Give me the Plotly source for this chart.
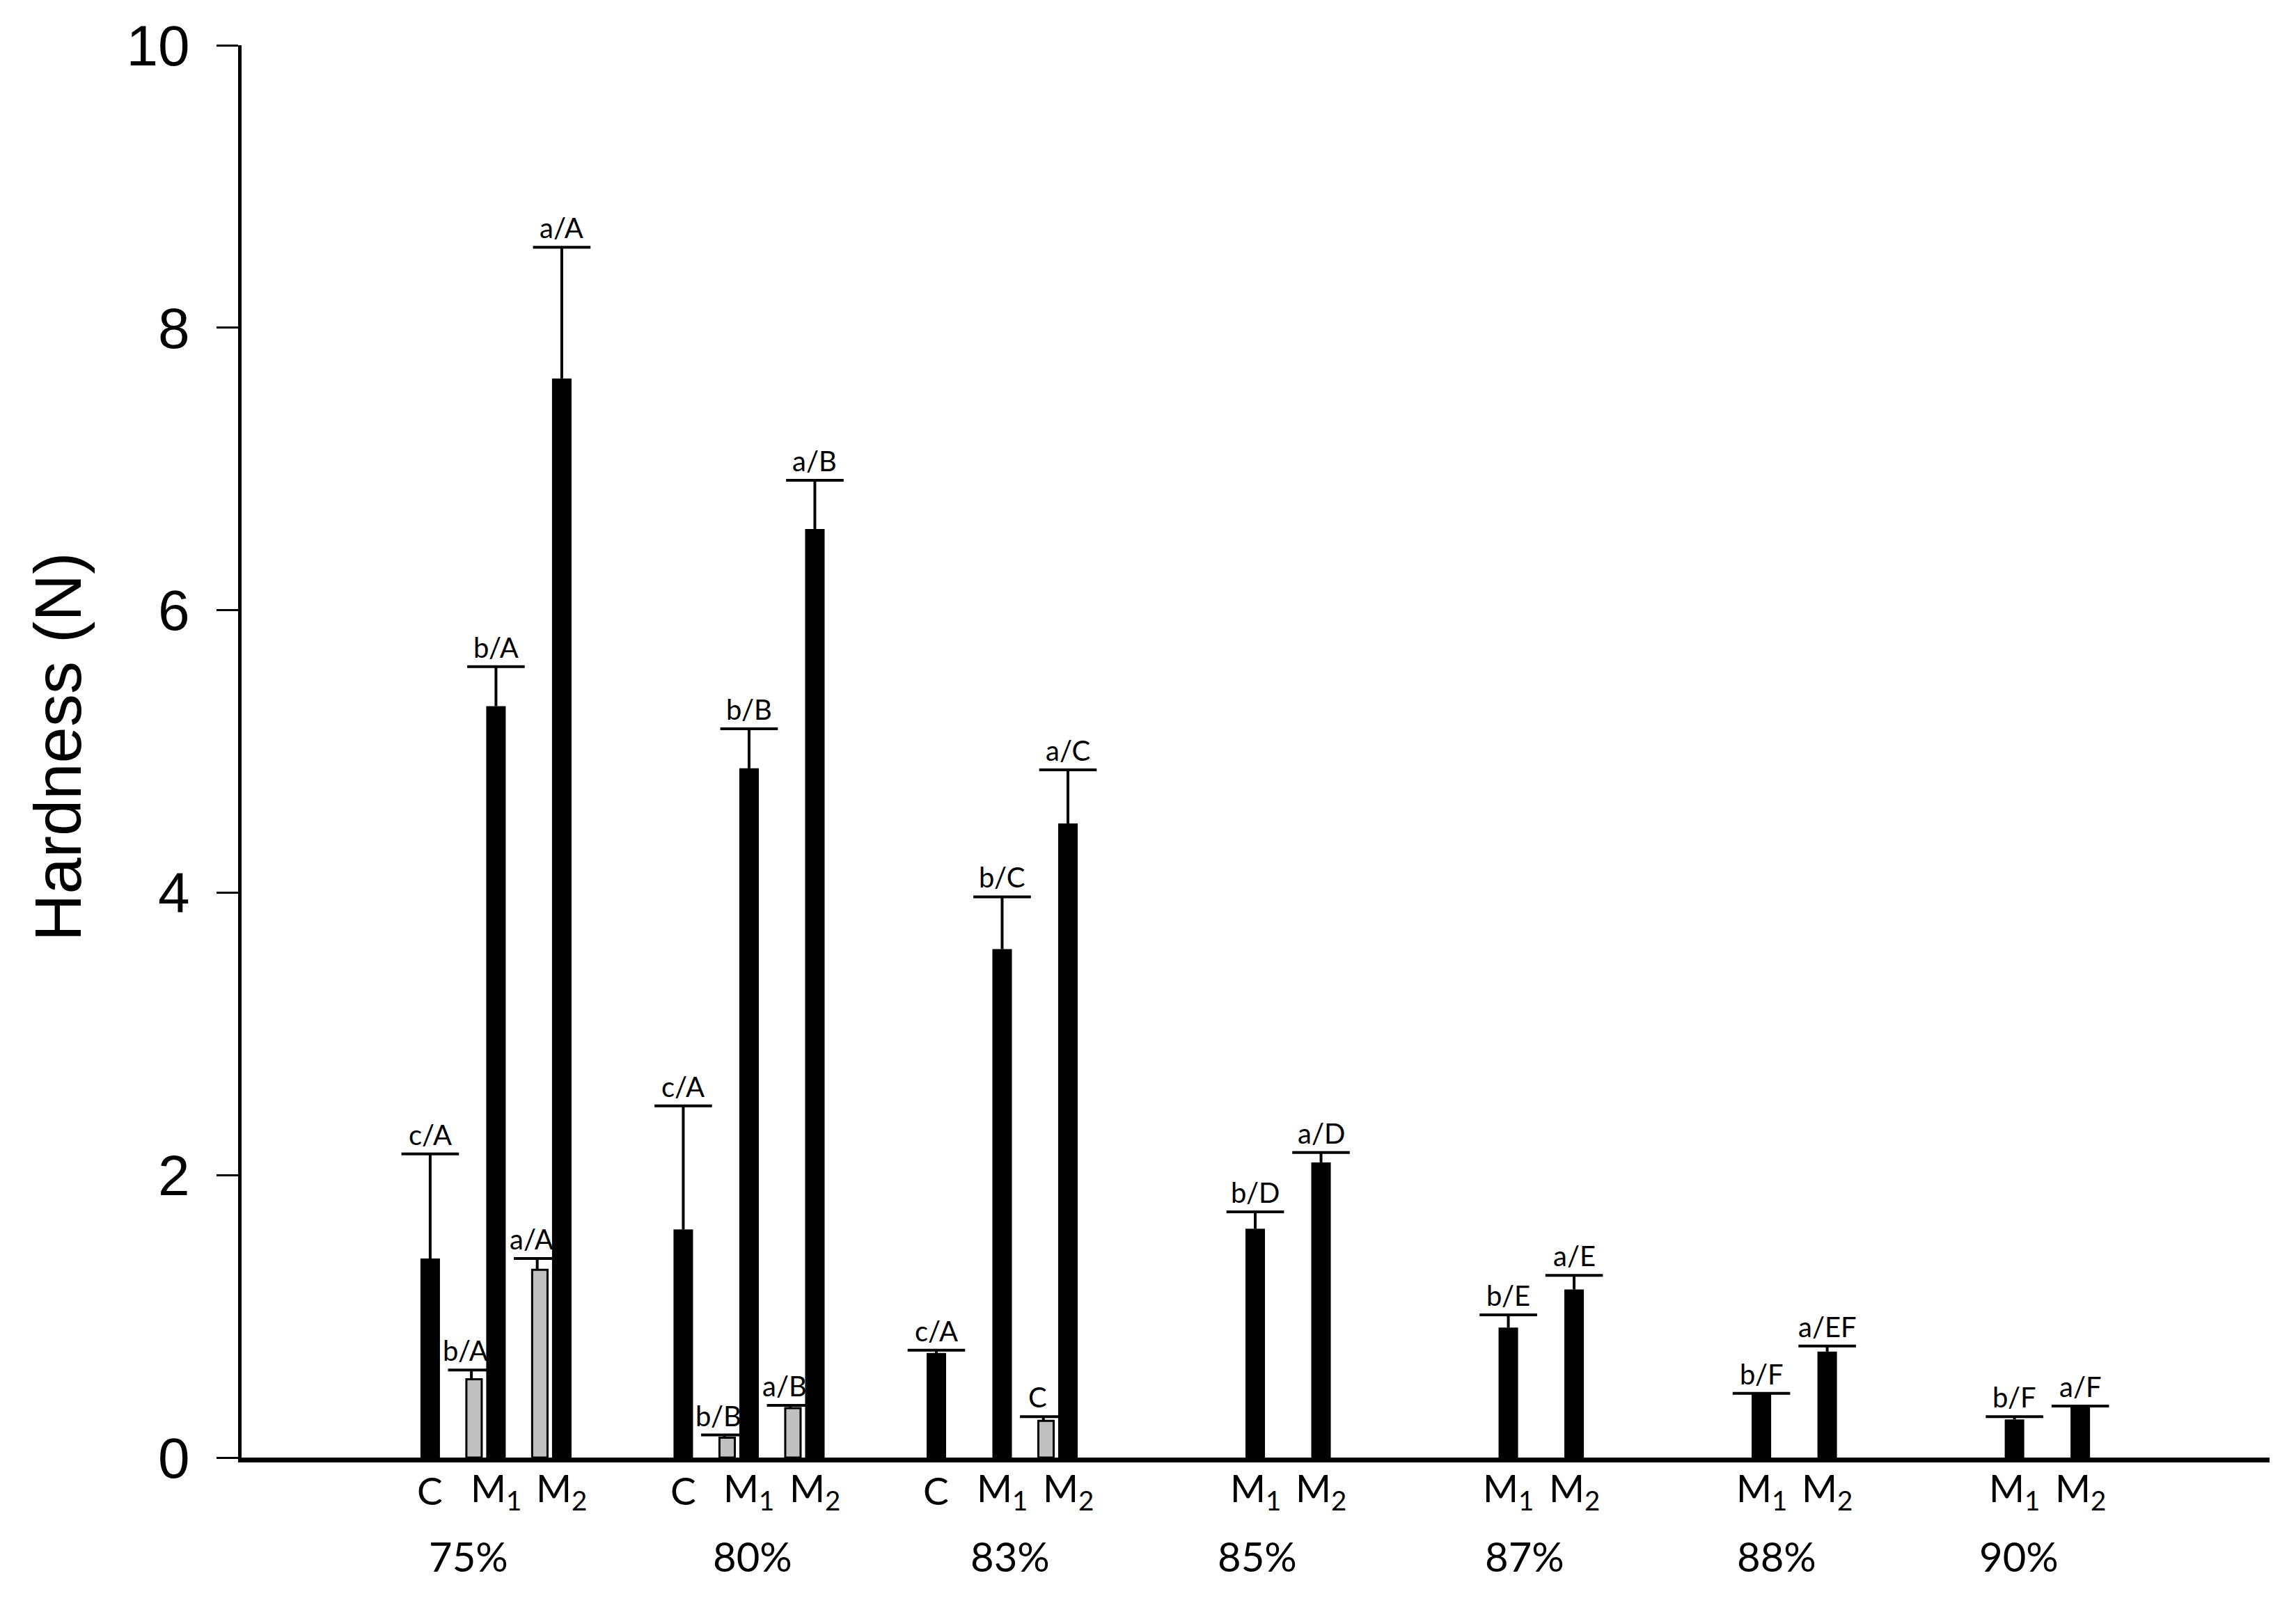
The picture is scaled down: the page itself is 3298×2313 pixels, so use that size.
import plotly.graph_objects as go

# ---------------- data ----------------
groups = ["75%", "80%", "83%", "85%", "87%", "88%", "90%"]

# black bars (means and upward SD)
c_mean = [1.41, 1.615, 0.74, None, None, None, None]
c_sd = [0.74, 0.875, 0.02, None, None, None, None]
c_lab = ["c/A", "c/A", "c/A", None, None, None, None]

m1_mean = [5.32, 4.88, 3.60, 1.62, 0.92, 0.45, 0.27]
m1_sd = [0.28, 0.28, 0.37, 0.12, 0.09, 0.005, 0.02]
m1_lab = ["b/A", "b/B", "b/C", "b/D", "b/E", "b/F", "b/F"]

m2_mean = [7.64, 6.575, 4.49, 2.09, 1.19, 0.75, 0.36]
m2_sd = [0.93, 0.345, 0.38, 0.07, 0.10, 0.04, 0.005]
m2_lab = ["a/A", "a/B", "a/C", "a/D", "a/E", "a/EF", "a/F"]

# grey bars
m1g_mean = [0.555, 0.14, None, None, None, None, None]
m1g_sd = [0.065, 0.02, None, None, None, None, None]
m1g_lab = ["b/A", "b/B", None, None, None, None, None]

m2g_mean = [1.33, 0.35, 0.26, None, None, None, None]
m2g_sd = [0.08, 0.02, 0.03, None, None, None, None]
m2g_lab = ["a/A", "a/B", "C", None, None, None, None]

treat_c = "C"
treat_m1 = "M<sub>1</sub>"
treat_m2 = "M<sub>2</sub>"
y_title = "Hardness (N)"
y_ticks = [0, 2, 4, 6, 8, 10]

# ---------------- layout constants ----------------
GROUP_STEP = 11.54
OFF = {"C": 0.0, "M1": 3.0, "M2": 6.0, "M1g": 2.0, "M2g": 5.0}
PCT_SHIFT = [1.75, 3.16, 3.37, 3.1, 3.75, 3.7, 3.2]  # label offsets within group (slot units)

BLACK_W = 0.89
GREY_W = 0.70
LABEL_FONT = dict(family="Lato, Carlito, sans-serif", size=40, color="black")
XLAB_FONT = dict(family="Lato, Carlito, sans-serif", size=55, color="black")
PCT_FONT = dict(family="Lato, Carlito, sans-serif", size=58, color="black")
ARIAL = "Arial, Liberation Sans, sans-serif"


def collect(means, sds, labs, key):
    xs, ys, es, ls = [], [], [], []
    for g, (m, s, l) in enumerate(zip(means, sds, labs)):
        if m is None:
            continue
        xs.append(g * GROUP_STEP + OFF[key])
        ys.append(m)
        es.append(s)
        ls.append(l)
    return xs, ys, es, ls


black = [collect(c_mean, c_sd, c_lab, "C"),
         collect(m1_mean, m1_sd, m1_lab, "M1"),
         collect(m2_mean, m2_sd, m2_lab, "M2")]
grey = [collect(m1g_mean, m1g_sd, m1g_lab, "M1g"),
        collect(m2g_mean, m2g_sd, m2g_lab, "M2g")]

fig = go.Figure()
annotations = []


def add_errors(xs, ys, es, cap):
    sx, sy = [], []
    for x, y, e in zip(xs, ys, es):
        sx += [x, x, None]
        sy += [y, y + e, None]
    fig.add_trace(go.Scatter(x=sx, y=sy, mode="lines",
                             line=dict(color="black", width=4),
                             showlegend=False, hoverinfo="skip"))
    fig.add_trace(go.Scatter(x=xs, y=[y + e for y, e in zip(ys, es)], mode="markers",
                             marker=dict(symbol="line-ew", size=cap, color="black",
                                         line=dict(color="black", width=4)),
                             showlegend=False, hoverinfo="skip"))


for xs, ys, es, ls in black:
    fig.add_trace(go.Bar(x=xs, y=ys, width=BLACK_W,
                         marker=dict(color="black", line=dict(width=0)),
                         showlegend=False))
    add_errors(xs, ys, es, 59)
    for x, y, e, l in zip(xs, ys, es, ls):
        annotations.append(dict(x=x, y=y + e, xref="x", yref="y", text=l,
                                showarrow=False, yanchor="bottom", yshift=2,
                                font=LABEL_FONT))

for xs, ys, es, ls in grey:
    fig.add_trace(go.Bar(x=xs, y=ys, width=GREY_W,
                         marker=dict(color="#c0c0c0", line=dict(width=3, color="black")),
                         showlegend=False))
    add_errors([x - 0.12 for x in xs], ys, es, 48)
    for x, y, e, l in zip(xs, ys, es, ls):
        annotations.append(dict(x=x, y=y + e, xref="x", yref="y", text=l,
                                showarrow=False, yanchor="bottom", yshift=2,
                                xshift=-12, font=LABEL_FONT))

# treatment labels under axis
for g in range(len(groups)):
    if c_mean[g] is not None:
        annotations.append(dict(x=g * GROUP_STEP + OFF["C"], y=0, xref="x", yref="paper",
                                text=treat_c, showarrow=False, yanchor="middle",
                                yshift=-47, font=XLAB_FONT))
    annotations.append(dict(x=g * GROUP_STEP + OFF["M1"], y=0, xref="x", yref="paper",
                            text=treat_m1, showarrow=False, yanchor="middle",
                            yshift=-47, font=XLAB_FONT))
    annotations.append(dict(x=g * GROUP_STEP + OFF["M2"], y=0, xref="x", yref="paper",
                            text=treat_m2, showarrow=False, yanchor="middle",
                            yshift=-47, font=XLAB_FONT))
    annotations.append(dict(x=g * GROUP_STEP + PCT_SHIFT[g], y=0, xref="x", yref="paper",
                            text=groups[g], showarrow=False, yanchor="middle",
                            yshift=-141, font=PCT_FONT))

annotations.append(dict(x=0, y=0.503, xref="paper", yref="paper", text=y_title,
                        textangle=-90, showarrow=False, xanchor="center", yanchor="middle",
                        xshift=-264, font=dict(family=ARIAL, size=94, color="black")))

# page body has an 8px default margin: shrink the figure so the plot area lands in place
fig.update_layout(
    width=3290, height=2305,
    margin=dict(l=339, r=38, t=50, b=219),
    paper_bgcolor="white", plot_bgcolor="white",
    barmode="overlay",
    annotations=annotations,
    xaxis=dict(range=[-8.60, 83.87], showgrid=False, zeroline=False,
               showticklabels=False, ticks="", showline=True,
               linecolor="black", linewidth=7),
    yaxis=dict(range=[0, 10], tickvals=y_ticks, showgrid=False,
               zeroline=False, showline=True, linecolor="black", linewidth=5,
               ticks="outside", ticklen=31, tickwidth=3, tickcolor="black",
               tickfont=dict(family=ARIAL, size=82, color="black"),
               ticklabelstandoff=22),
)

fig.write_html("out.html")
